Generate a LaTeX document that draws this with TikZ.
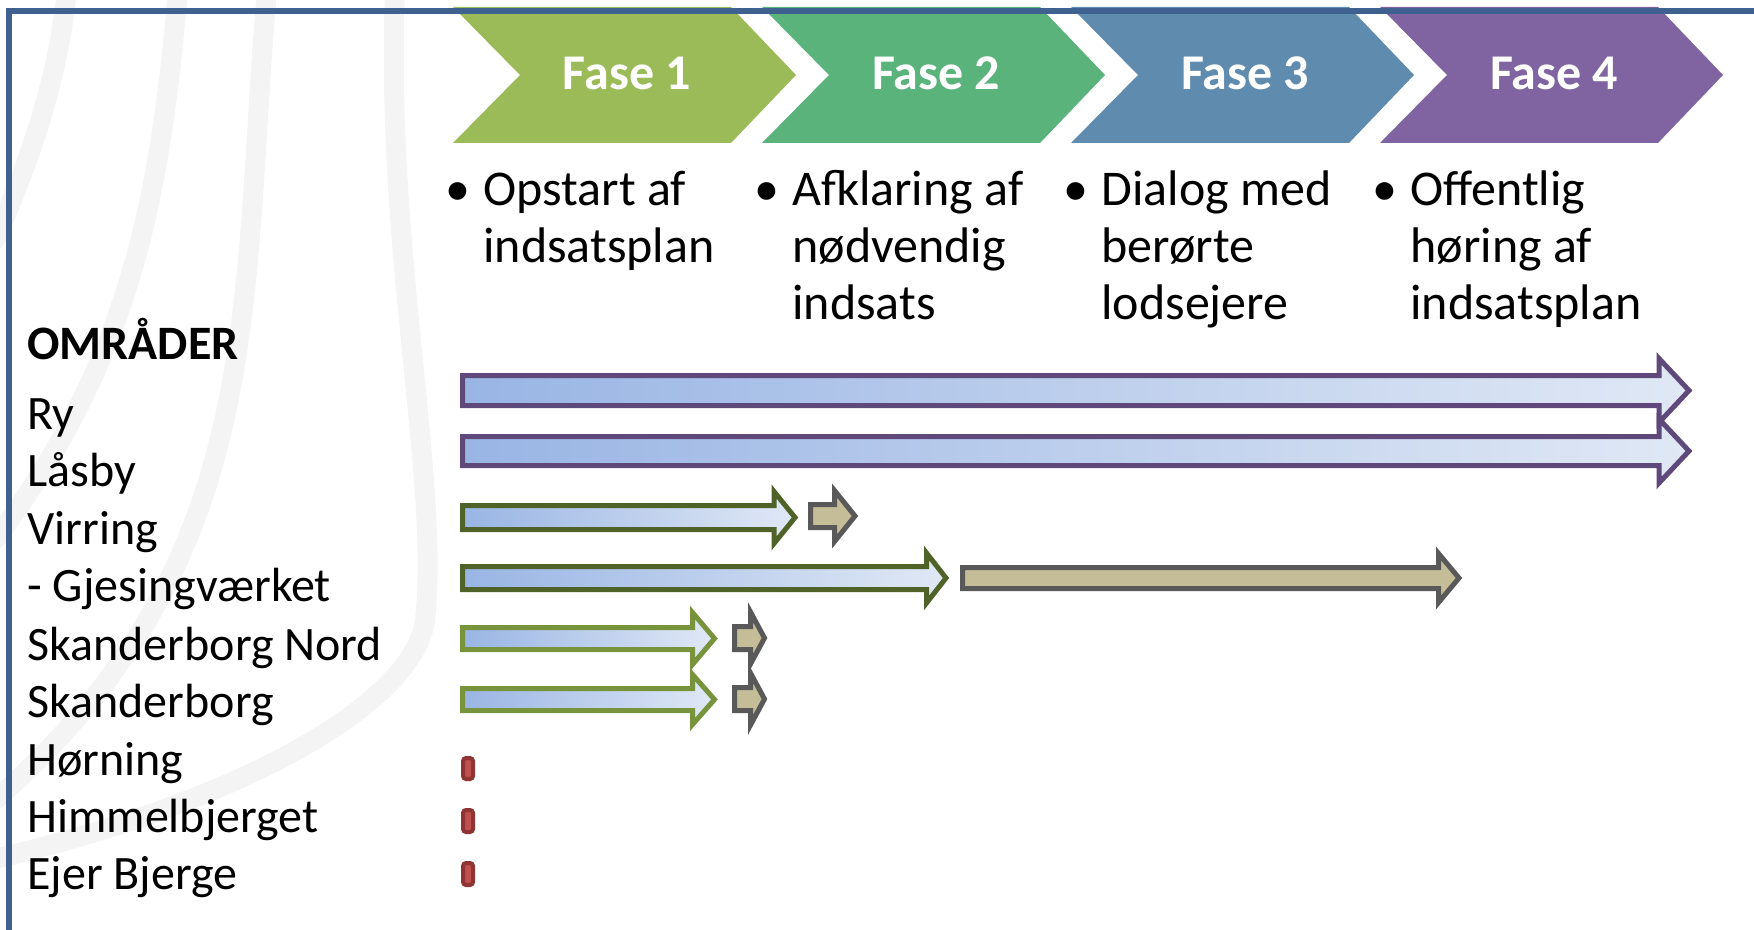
\documentclass[tikz,border=0pt]{standalone}
\usepackage{fontspec}
\setmainfont{Carlito}
\usetikzlibrary{positioning}

\definecolor{framecol}{HTML}{3E6190}
\definecolor{fase1col}{HTML}{9BBB59}
\definecolor{fase2col}{HTML}{5BB37C}
\definecolor{fase3col}{HTML}{5F8BAE}
\definecolor{fase4col}{HTML}{8064A2}
\definecolor{barleft}{HTML}{99B5E4}
\definecolor{barright}{HTML}{E0E8F5}
\definecolor{purpleline}{HTML}{5F497A}
\definecolor{darkgreen}{HTML}{4F6228}
\definecolor{lightgreen}{HTML}{77933C}
\definecolor{greyline}{HTML}{595959}
\definecolor{khaki}{HTML}{C4BD97}
\definecolor{redfill}{HTML}{C0504D}
\definecolor{redline}{HTML}{8E3432}
\definecolor{swoosh}{HTML}{F4F4F4}

% block arrow: [style], start x, head base x, tip x, centre y, shaft half, head half
\newcommand{\blockarrow}[7][]{%
  \draw[#1] (#2,#5-#6) -- (#3,#5-#6) -- (#3,#5-#7) -- (#4,#5)
    -- (#3,#5+#7) -- (#3,#5+#6) -- (#2,#5+#6) -- cycle;}
% chevron: colour, left x
\newcommand{\chevron}[2]{%
  \fill[#1] (#2,7) -- ++(278,0) -- ++(65,68) -- ++(-65,68) -- ++(-278,0) -- ++(67,-68) -- cycle;}

\begin{document}
\begin{tikzpicture}[
            x=0.5pt, y=-0.5pt,
            fasetext/.style={text=white, font=\fontsize{25}{30}\selectfont\bfseries, anchor=base, inner sep=0pt},
            phasetext/.style={font=\fontsize{25}{28.5}\selectfont, align=left, anchor=base west, inner sep=0pt},
            dotmark/.style={font=\fontsize{25}{28.5}\selectfont, anchor=base, inner sep=0pt},
            area/.style={font=\fontsize{24}{28}\selectfont, anchor=base west, inner sep=0pt},
            planbar/.style={left color=barleft, right color=barright, line width=2.5pt},
            nextbar/.style={fill=khaki, draw=greyline, line width=2.5pt},
            redmark/.style={fill=redfill, draw=redline, line width=2pt, rounded corners=1.5pt},
            swooshline/.style={draw=swoosh, line width=10pt, line cap=round},
            frame/.style={draw=framecol, line width=2.75pt}
        ]
        \useasboundingbox (0,0) rectangle (1754,930);
        \clip (0,0) rectangle (1754,930);

        % watermark
        \draw[swooshline] (67,-10) .. controls (58,80) and (30,160) .. (-5,240);
        \draw[swooshline] (178,-10) .. controls (160,200) and (130,360) .. (-5,540);
        \draw[swooshline] (267,-10) .. controls (240,300) and (270,560) .. (-5,800);
        \draw[swooshline] (395,-10) .. controls (385,250) and (440,480) .. (425,620)
            .. controls (415,700) and (250,800) .. (-10,860);

        % phases
        \chevron{fase1col}{453}
        \chevron{fase2col}{762}
        \chevron{fase3col}{1071}
        \chevron{fase4col}{1380}
        \draw[frame] (9,940) -- (9,11) -- (1760,11);

        \node[fasetext] (fase1) at (627,90) {Fase 1};
        \node[fasetext] (fase2) at (936,90) {Fase 2};
        \node[fasetext] (fase3) at (1245,90) {Fase 3};
        \node[fasetext] (fase4) at (1554,90) {Fase 4};

        \node[dotmark] (dot1) at (458,206) {•};
        \node[dotmark] (dot2) at (767,206) {•};
        \node[dotmark] (dot3) at (1076,206) {•};
        \node[dotmark] (dot4) at (1385,206) {•};
        % anchor sits on the last line
        \node[phasetext] (step1) at (483,263) {Opstart af\\indsatsplan};
        \node[phasetext] (step2) at (792,320) {Afklaring af\\nødvendig\\indsats};
        \node[phasetext] (step3) at (1101,320) {Dialog med\\berørte\\lodsejere};
        \node[phasetext] (step4) at (1410,320) {Offentlig\\høring af\\indsatsplan};

        % areas
        \node[area, font=\fontsize{24}{28}\selectfont\bfseries] (areas) at (27,359) {OMRÅDER};
        \node[area] (ry) at (27,429) {Ry};
        \node[area] (lasby) at (27,486) {Låsby};
        \node[area] (virring) at (27,544) {Virring};
        \node[area] (gjesing) at (27,601) {- Gjesingværket};
        \node[area] (skbnord) at (27,660) {Skanderborg Nord};
        \node[area] (skb) at (27,717) {Skanderborg};
        \node[area] (horning) at (27,775) {Hørning};
        \node[area] (himmel) at (27,832) {Himmelbjerget};
        \node[area] (ejer) at (27,889) {Ejer Bjerge};

        % time bars
        \blockarrow[planbar, draw=purpleline]{462.5}{1659}{1689}{390.5}{15}{32}
        \blockarrow[planbar, draw=purpleline]{462.5}{1659}{1689}{451}{14.5}{32}
        \blockarrow[planbar, draw=darkgreen]{462.5}{774}{795}{517.5}{12}{26}
        \blockarrow[nextbar]{810.5}{834.5}{855}{516}{11.5}{25.5}
        \blockarrow[planbar, draw=darkgreen]{462.5}{926.5}{946}{578}{11.5}{25}
        \blockarrow[nextbar]{962.5}{1438.5}{1459}{578}{10.5}{24.5}
        \blockarrow[planbar, draw=lightgreen]{462.5}{692.5}{714.5}{638.5}{11}{26}
        \blockarrow[nextbar]{734.5}{750.5}{764.5}{638}{11.5}{26}
        \blockarrow[planbar, draw=lightgreen]{462.5}{692.5}{714.5}{699.5}{11}{25}
        \blockarrow[nextbar]{734.5}{750.5}{764.5}{699}{11.5}{26}
        \draw[redmark] (463,758) rectangle (473,779);
        \draw[redmark] (463,810) rectangle (473,832);
        \draw[redmark] (463,863) rectangle (473,885);
\end{tikzpicture}
\end{document}
